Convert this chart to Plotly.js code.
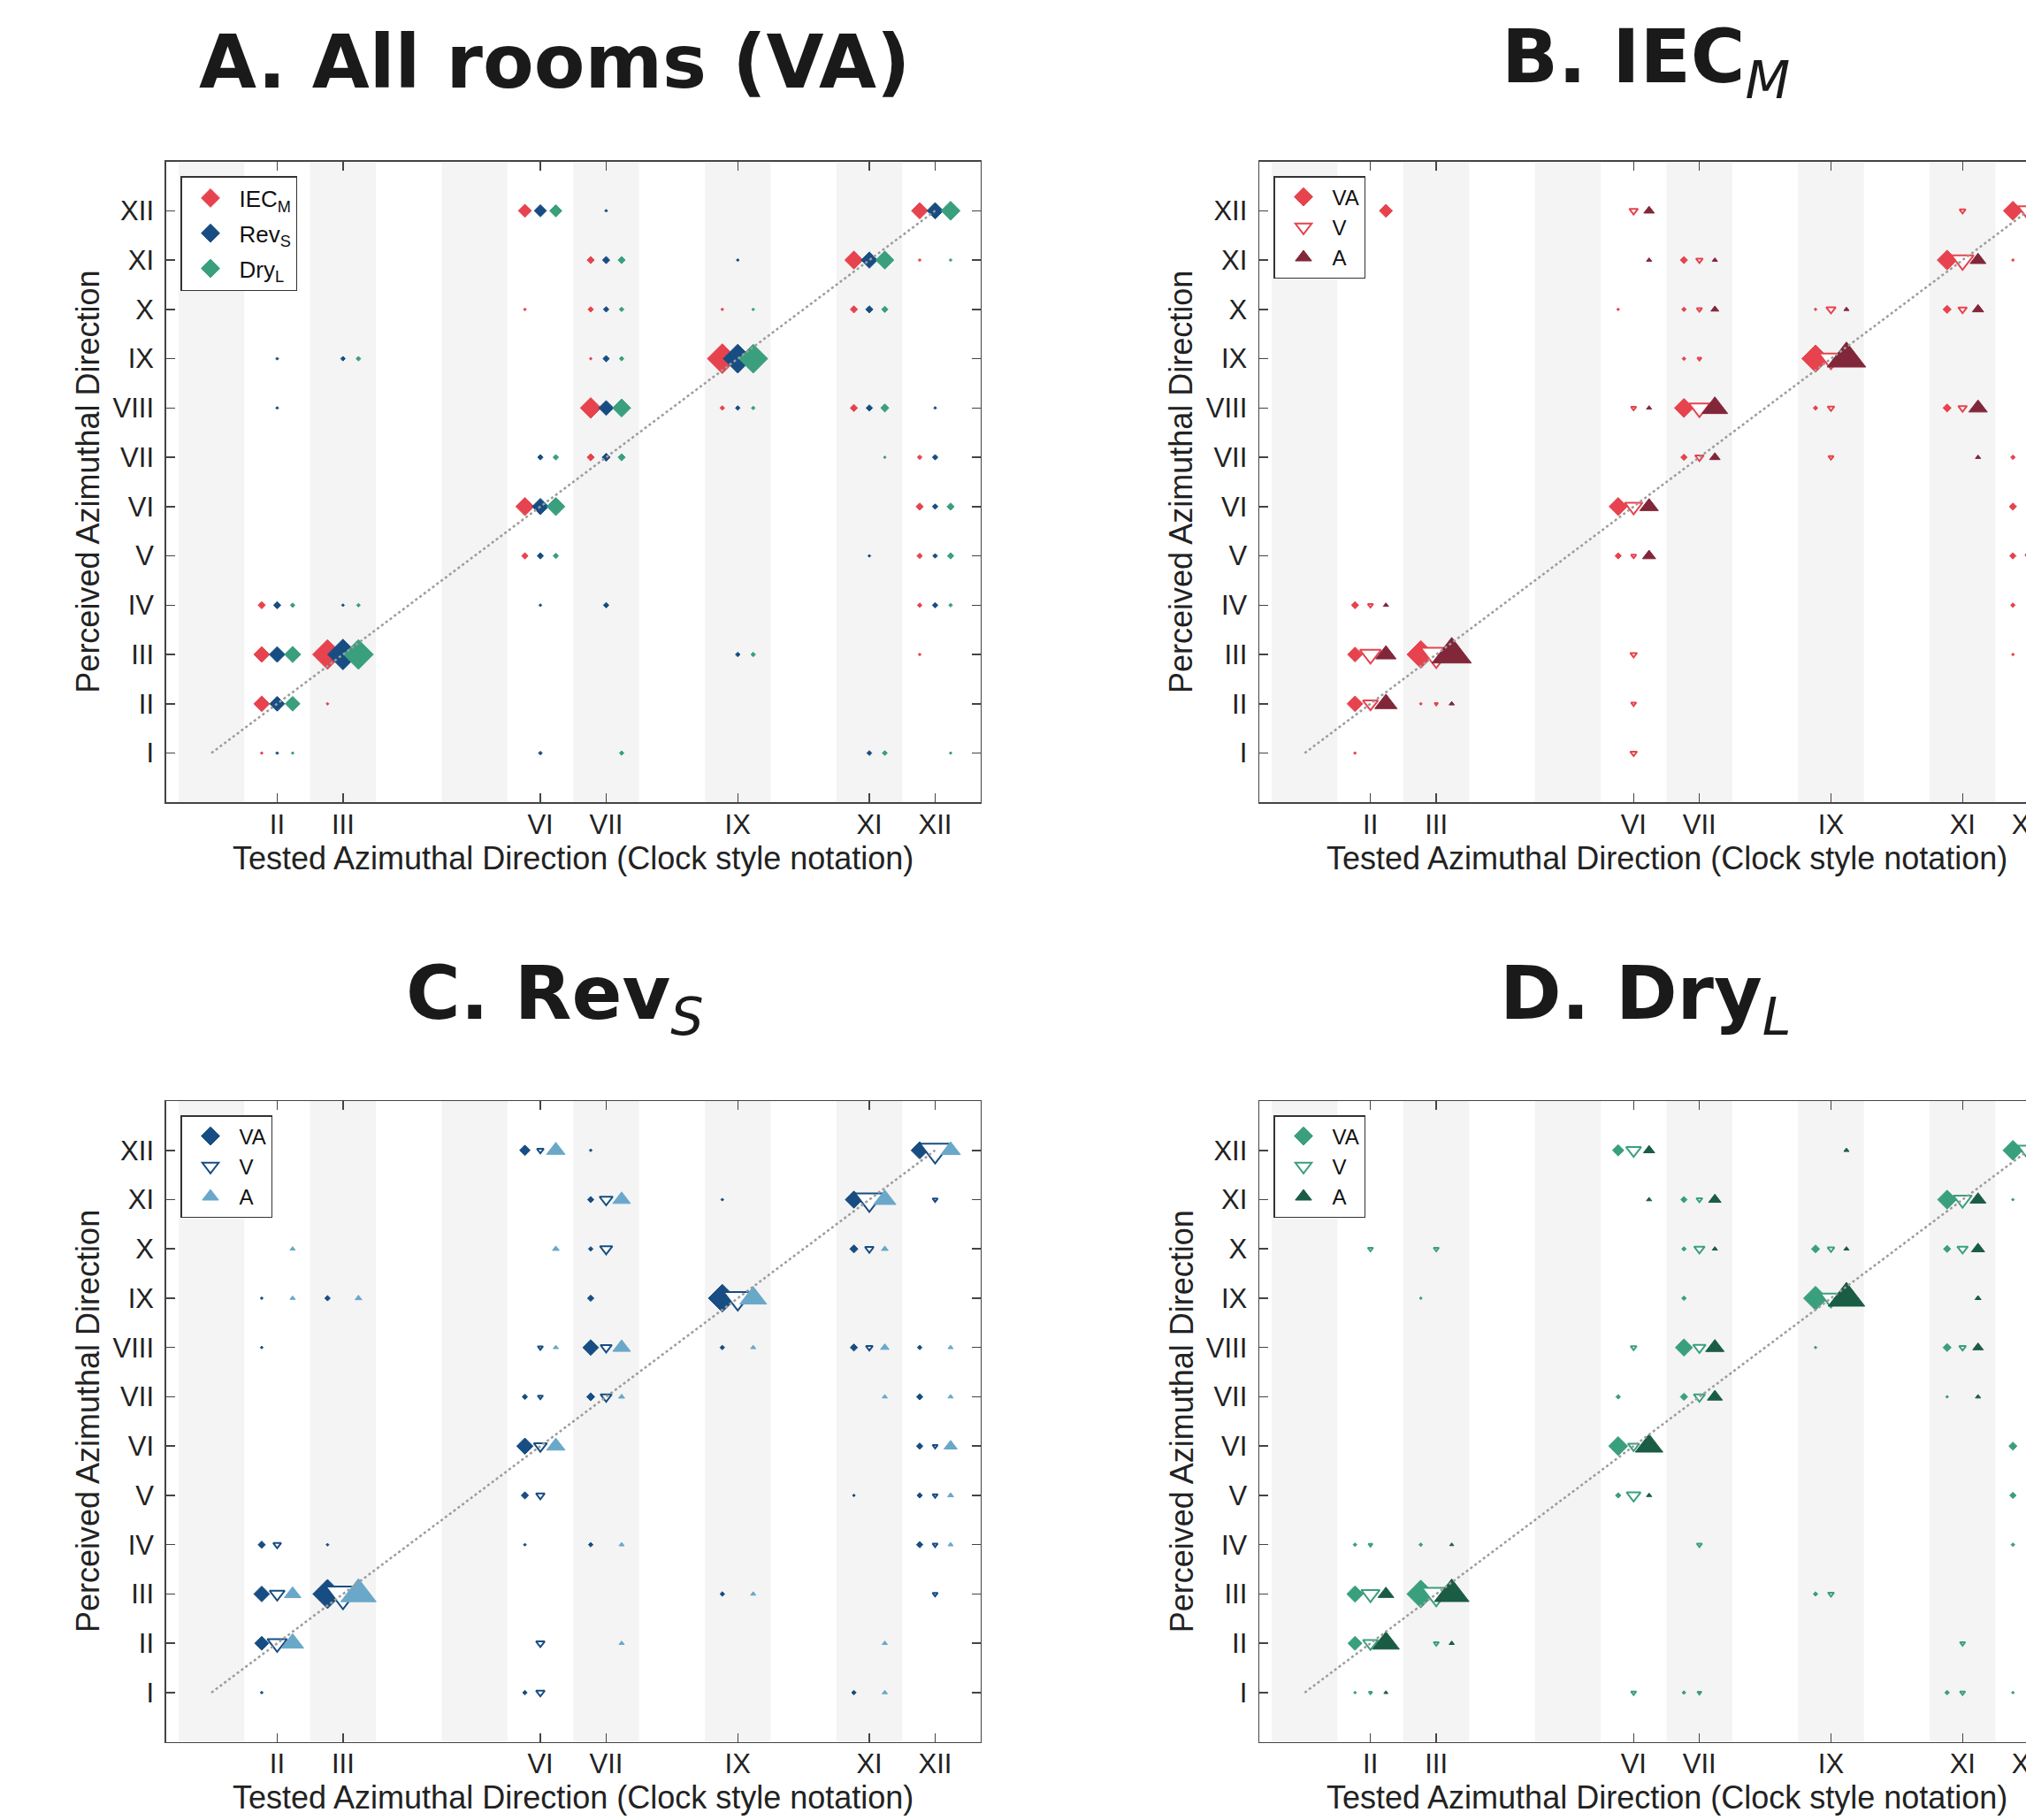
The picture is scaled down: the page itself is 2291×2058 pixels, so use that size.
<!DOCTYPE html>
<html><head><meta charset="utf-8">
<script src="https://cdn.plot.ly/plotly-3.0.1.min.js"></script>
<style>html,body{margin:0;padding:0;overflow:hidden;background:#fff}#chart{width:2400px;height:2058px}</style>
</head><body><div id="chart"></div>
<script>
// ---------- categories ----------
const ROMAN = ['I','II','III','IV','V','VI','VII','VIII','IX','X','XI','XII'];
const PERCEIVED = [1,2,3,4,5,6,7,8,9,10,11,12];
const TESTED = [2,3,6,7,9,11,12];

// ---------- data: [tested, perceived, % of responses] ----------
// Panel A: all rooms, visual-auditory condition
const A_IEC_M = [[2,4,20],[2,3,49],[2,2,49],[2,1,5],[3,3,97],[3,2,5],
 [6,12,40],[6,10,5],[6,6,57],[6,5,17],[7,11,20],[7,10,14],[7,9,5],[7,8,66],[7,7,20],
 [9,10,5],[9,9,97],[9,8,11],[11,11,57],[11,10,20],[11,8,20],
 [12,12,51],[12,11,5],[12,7,11],[12,6,20],[12,5,14],[12,4,11],[12,3,5]];
const A_REV_S = [[2,9,5],[2,8,5],[2,4,20],[2,3,49],[2,2,46],[2,1,5],[3,9,11],[3,4,5],[3,3,100],
 [6,12,37],[6,7,14],[6,6,51],[6,5,17],[6,4,5],[6,1,8],
 [7,12,5],[7,11,20],[7,10,14],[7,9,17],[7,8,46],[7,7,23],[7,4,14],
 [9,11,5],[9,9,94],[9,8,11],[9,3,11],[11,11,51],[11,10,20],[11,8,17],[11,5,5],[11,1,12],
 [12,12,51],[12,8,5],[12,7,14],[12,6,14],[12,5,11],[12,4,14]];
const A_DRY_L = [[2,11,5],[2,4,11],[2,3,51],[2,2,46],[2,1,5],[3,9,11],[3,4,8],[3,3,97],
 [6,12,37],[6,7,14],[6,6,57],[6,5,14],[7,11,20],[7,10,11],[7,9,11],[7,8,57],[7,7,20],[7,1,11],
 [9,10,5],[9,9,94],[9,8,8],[9,3,11],[11,11,57],[11,10,17],[11,8,23],[11,7,5],[11,1,12],
 [12,12,60],[12,11,5],[12,6,20],[12,5,17],[12,4,8],[12,1,5]];

// Panel B: IEC_M
const B_VA = [[2,4,20],[2,3,46],[2,2,49],[2,1,5],[3,3,90],[3,2,5],
 [6,10,5],[6,6,57],[6,5,17],[7,11,20],[7,10,11],[7,9,8],[7,8,60],[7,7,17],
 [9,10,5],[9,9,89],[9,8,11],[11,11,63],[11,10,23],[11,8,23],
 [12,12,60],[12,11,5],[12,7,11],[12,6,20],[12,5,17],[12,4,11],[12,3,5]];
const B_VA_RIGHTSLOT = [[2,12,40]];   // VA mark drawn in the right-hand slot in the original figure
const B_V = [[2,4,10],[2,3,52],[2,2,36],[3,3,79],[3,2,5],
 [6,12,19],[6,8,10],[6,6,43],[6,5,10],[6,3,14],[6,2,10],[6,1,14],
 [7,11,14],[7,10,10],[7,9,7],[7,8,52],[7,7,19],[9,10,21],[9,9,60],[9,8,14],[9,7,10],
 [11,12,12],[11,11,55],[11,10,19],[11,8,19],[12,12,52],[12,5,12]];
const B_A = [[2,4,10],[2,3,50],[2,2,55],[3,3,100],[3,2,10],
 [6,12,24],[6,11,10],[6,8,10],[6,6,45],[6,5,31],[7,11,10],[7,10,17],[7,8,64],[7,7,24],
 [9,10,10],[9,9,98],[11,11,38],[11,10,26],[11,8,45],[11,7,10]];

// Panel C: Rev_S
const C_VA = [[2,9,5],[2,8,5],[2,4,20],[2,3,49],[2,2,43],[2,1,5],[3,9,14],[3,4,5],[3,3,95],
 [6,12,31],[6,7,14],[6,6,51],[6,5,20],[6,4,5],[6,1,11],
 [7,12,5],[7,11,17],[7,10,11],[7,9,17],[7,8,49],[7,7,23],[7,4,11],
 [9,11,5],[9,9,90],[9,8,11],[9,3,11],[11,11,54],[11,10,23],[11,8,20],[11,5,5],[11,1,11],
 [12,12,54],[12,8,11],[12,7,17],[12,6,17],[12,5,14],[12,4,17]];
const C_V = [[2,4,17],[2,3,36],[2,2,48],[3,3,88],
 [6,12,14],[6,8,10],[6,7,10],[6,6,31],[6,5,19],[6,2,19],[6,1,19],
 [7,11,31],[7,10,29],[7,8,26],[7,7,26],[9,9,71],[11,11,71],[11,10,19],[11,8,14],
 [12,12,76],[12,11,10],[12,6,10],[12,5,10],[12,4,10],[12,3,10]];
const C_A = [[2,10,10],[2,9,10],[2,3,40],[2,2,55],[3,9,14],[3,3,90],
 [6,12,45],[6,10,14],[6,8,10],[6,6,45],[7,11,43],[7,8,43],[7,7,12],[7,4,10],[7,2,10],
 [9,9,67],[9,8,10],[9,3,10],[11,11,55],[11,10,14],[11,8,19],[11,7,10],[11,2,10],[11,1,10],
 [12,12,48],[12,8,10],[12,7,10],[12,6,31],[12,5,12],[12,4,10]];

// Panel D: Dry_L
const D_VA = [[2,11,5],[2,4,8],[2,3,51],[2,2,43],[2,1,5],[3,9,5],[3,4,8],[3,3,90],
 [6,12,34],[6,7,11],[6,6,60],[6,5,14],[7,11,17],[7,10,11],[7,9,11],[7,8,54],[7,7,20],[7,1,8],
 [9,10,23],[9,9,77],[9,8,5],[9,3,11],[11,11,60],[11,10,20],[11,8,23],[11,7,5],[11,1,11],
 [12,12,63],[12,11,5],[12,6,23],[12,5,17],[12,4,8],[12,1,5]];
const D_V = [[2,10,10],[2,4,7],[2,3,45],[2,2,36],[2,1,5],[3,10,10],[3,3,71],[3,2,10],
 [6,12,36],[6,8,12],[6,6,26],[6,5,33],[6,1,10],
 [7,11,12],[7,10,24],[7,8,29],[7,7,26],[7,4,10],[7,1,7],[9,10,14],[9,9,52],[9,3,12],
 [11,11,45],[11,10,24],[11,8,14],[11,2,10],[11,1,10],[12,12,52]];
const D_A = [[2,3,38],[2,2,67],[2,1,7],[3,4,7],[3,3,88],[3,2,10],
 [6,12,26],[6,11,10],[6,6,69],[6,5,10],[7,11,29],[7,10,10],[7,8,45],[7,7,36],
 [9,12,10],[9,10,10],[9,9,93],[11,11,38],[11,10,31],[11,9,12],[11,8,24],[11,7,10]];

// ---------- styling / layout ----------
const W = 2400, H = 2058;
const XR = [0.31, 12.69], YR = [0, 13];
const OFF = 0.235;
const COL = {red:'#e6434f', blue:'#174d82', green:'#3a9f7d', dred:'#82263a', lblue:'#69a8c9', dgreen:'#1a5c44'};
const FONT = 'Liberation Sans, Arial, Helvetica, sans-serif';
const TFONT = 'DejaVu Sans, Verdana, sans-serif';

const PANELS = [
 {ax:'', px:[187.7,1108.8], py:[182.6,907.3], leg:'legend',  legPos:[204,199], title:'<b>A. All rooms (VA)</b>', tc:[627,70]},
 {ax:'2', px:[1424,2345],  py:[182.6,907.3], leg:'legend2', legPos:[1440,199], title:'<b>B. IEC</b><sub><i>M</i></sub>', tc:[1861,70]},
 {ax:'3', px:[187.7,1108.8], py:[1245,1969.7], leg:'legend3', legPos:[204,1261], title:'<b>C. Rev</b><sub><i>S</i></sub>', tc:[627,1129]},
 {ax:'4', px:[1424,2345],  py:[1245,1969.7], leg:'legend4', legPos:[1440,1261], title:'<b>D. Dry</b><sub><i>L</i></sub>', tc:[1861,1129]}
];

// slot: 0 = left of tick, 1 = on tick, 2 = right of tick
const SERIES = [
 [ {d:A_IEC_M, k:'dia', c:COL.red,  n:'IEC<sub>M</sub>', slot:0}, {d:A_REV_S, k:'dia', c:COL.blue, n:'Rev<sub>S</sub>', slot:1}, {d:A_DRY_L, k:'dia', c:COL.green, n:'Dry<sub>L</sub>', slot:2} ],
 [ {d:B_VA, k:'dia', c:COL.red,  n:'VA', slot:0}, {d:B_VA_RIGHTSLOT, k:'dia', c:COL.red, n:'VA', slot:2, nolegend:true},
   {d:B_V, k:'vo', c:COL.red,  n:'V', slot:1}, {d:B_A, k:'tri', c:COL.dred,  n:'A', slot:2} ],
 [ {d:C_VA, k:'dia', c:COL.blue, n:'VA', slot:0}, {d:C_V, k:'vo', c:COL.blue, n:'V', slot:1}, {d:C_A, k:'tri', c:COL.lblue, n:'A', slot:2} ],
 [ {d:D_VA, k:'dia', c:COL.green,n:'VA', slot:0}, {d:D_V, k:'vo', c:COL.green,n:'V', slot:1}, {d:D_A, k:'tri', c:COL.dgreen,n:'A', slot:2} ]
];

function size(k, p){ return k === 'dia' ? 1.2 + 0.255*p : 1.5 + 0.37*p; }
function mk(k, c, s){
  if (k === 'dia') return {symbol:'diamond', color:c, size:s, opacity:1, line:{width:1, color:c}};
  if (k === 'tri') return {symbol:'triangle-up', color:c, size:s, opacity:1, line:{width:1, color:c}};
  return {symbol:'triangle-down', color:'white', size:s, opacity:1, line:{color:c, width:2}};
}

const traces = [];
const layout = {width:W, height:H, margin:{l:0,r:0,t:0,b:0}, paper_bgcolor:'white', plot_bgcolor:'white',
  showlegend:true, shapes:[], annotations:[], hovermode:false};

const dx = [-OFF, 0, OFF];
PANELS.forEach((P, i) => {
  const xa = 'x'+P.ax, ya = 'y'+P.ax;
  const xdom = [P.px[0]/W, P.px[1]/W];
  const ydom = [1-P.py[1]/H, 1-P.py[0]/H];
  const axCommon = {ticks:'inside', ticklen:10, tickwidth:1.5, tickcolor:'#444', showline:true, linecolor:'#444', linewidth:1.5,
    mirror:'ticks', showgrid:false, zeroline:false, tickfont:{family:FONT, size:31, color:'#222'}, fixedrange:true};
  layout['xaxis'+P.ax] = Object.assign({domain:xdom, anchor:ya, range:XR, tickvals:TESTED, ticktext:TESTED.map(t=>ROMAN[t-1]),
    ticklabelstandoff:-3}, axCommon);
  layout['yaxis'+P.ax] = Object.assign({domain:ydom, anchor:xa, range:YR, tickvals:PERCEIVED, ticktext:ROMAN,
    ticklabelstandoff:6}, axCommon);
  // alternating shading for odd hours
  PERCEIVED.filter(h => h % 2 === 1).forEach(h => {
    layout.shapes.push({type:'rect', xref:xa, yref:ya+' domain', x0:Math.max(XR[0], h-0.5), x1:h+0.5, y0:0, y1:1,
      fillcolor:'#f4f4f4', line:{width:0}, layer:'below'});
  });
  // markers
  SERIES[i].forEach(S => {
    traces.push({type:'scatter', mode:'markers', xaxis:xa, yaxis:ya, showlegend:false, name:S.n,
      x:S.d.map(r => r[0] + dx[S.slot]), y:S.d.map(r => r[1]),
      marker:Object.assign(mk(S.k, S.c, 0), {size:S.d.map(r => size(S.k, r[2]))})});
  });
  // diagonal reference line (perceived == tested)
  traces.push({type:'scatter', mode:'lines', xaxis:xa, yaxis:ya, showlegend:false,
    x:[PERCEIVED[0], PERCEIVED[PERCEIVED.length-1]], y:[PERCEIVED[0], PERCEIVED[PERCEIVED.length-1]],
    line:{color:'#9c9c9c', width:2.5, dash:'dot'}});
  // legend entries
  SERIES[i].filter(S => !S.nolegend).forEach((S, j) => {
    traces.push({type:'scatter', mode:'markers', xaxis:xa, yaxis:ya, x:[null], y:[null], name:S.n,
      legend:P.leg, legendgroup:'g'+i+j, showlegend:true, marker:mk(S.k, S.c, 16)});
  });
  layout[P.leg] = {x:P.legPos[0]/W, y:1-P.legPos[1]/H, xanchor:'left', yanchor:'top', bgcolor:'white',
    bordercolor:'#333', borderwidth:1.5, font:{family:FONT, size:(i===0?26:24), color:'#111'},
    itemwidth:55, traceorder:'grouped', tracegroupgap:(i===0?3:0), itemclick:false, itemdoubleclick:false};
  // titles
  layout.annotations.push({xref:'paper', yref:'paper', x:P.tc[0]/W, y:1-P.tc[1]/H, xanchor:'center', yanchor:'middle',
    showarrow:false, text:P.title, font:{family:TFONT, size:84, color:'#1a1a1a'}});
  const cx = (P.px[0]+P.px[1])/2, cy = (P.py[0]+P.py[1])/2;
  layout.annotations.push({xref:'paper', yref:'paper', x:cx/W, y:1-(P.py[1]+63)/H, xanchor:'center', yanchor:'middle',
    showarrow:false, text:'Tested Azimuthal Direction (Clock style notation)', font:{family:FONT, size:36, color:'#222'}});
  layout.annotations.push({xref:'paper', yref:'paper', x:(P.px[0]-88)/W, y:1-cy/H, xanchor:'center', yanchor:'middle',
    showarrow:false, textangle:-90, text:'Perceived Azimuthal Direction', font:{family:FONT, size:36, color:'#222'}});
});

Plotly.newPlot('chart', traces, layout, {staticPlot:true, displayModeBar:false});
</script></body></html>
